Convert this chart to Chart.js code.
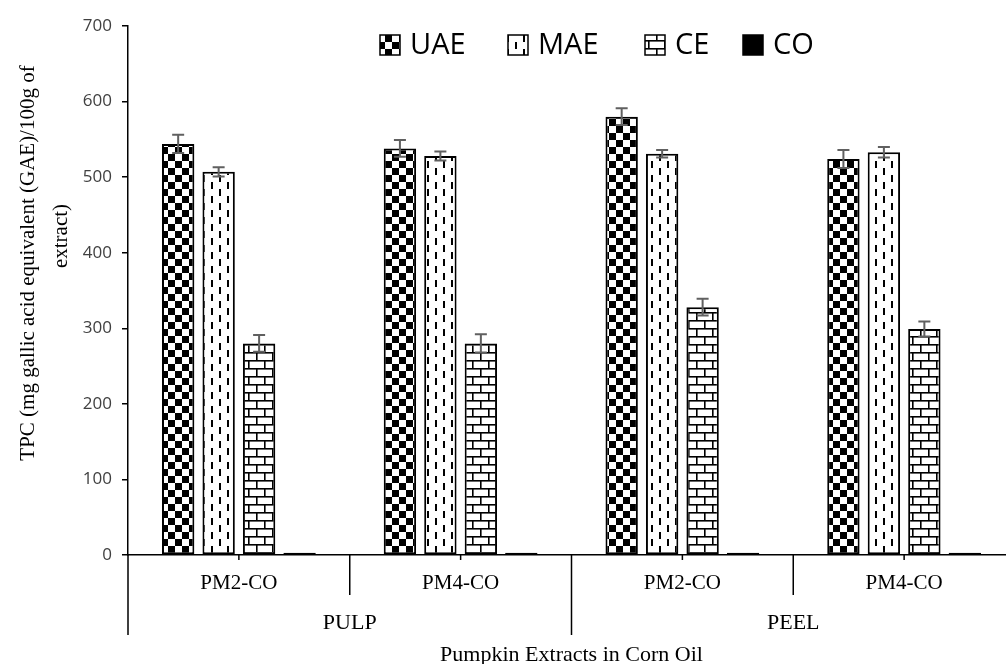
<!DOCTYPE html>
<html><head><meta charset="utf-8">
<script src="https://cdn.jsdelivr.net/npm/chart.js@4.4.1/dist/chart.umd.min.js"></script>
<style>html,body{margin:0;padding:0;background:#fff;overflow:hidden}#wrap{width:1006px;height:664px;overflow:hidden}</style>
</head><body><div id="wrap"><canvas id="c" width="1015" height="664" style="width:1015px;height:664px"></canvas></div>
<script>
// ---- data ----
const categories = ["PM2-CO", "PM4-CO", "PM2-CO", "PM4-CO"];
const groups = ["PULP", "PEEL"];
const seriesNames = ["UAE", "MAE", "CE", "CO"];
const uaeValues = [544, 538, 580, 524];
const maeValues = [507, 528, 531, 533];
const ceValues = [280, 280, 328, 299];
const coValues = [3, 3, 3, 3];
const uaeErr = [12, 11, 11, 12];
const maeErr = [6, 6, 5, 7];
const ceErr = [11, 12, 11, 10];
const coErr = [0, 0, 0, 0];
const yTicks = [0, 100, 200, 300, 400, 500, 600, 700];
const yTitle = ["TPC (mg gallic acid equivalent (GAE)/100g of", "extract)"];
const xTitle = "Pumpkin Extracts in Corn Oil";

// ---- patterns ----
function mk(w, h, draw) {
  const c = document.createElement('canvas'); c.width = w; c.height = h;
  const g = c.getContext('2d'); g.fillStyle = '#fff'; g.fillRect(0, 0, w, h); g.fillStyle = '#000'; draw(g);
  return document.getElementById('c').getContext('2d').createPattern(c, 'repeat');
}
const pChecker = mk(14, 14, g => { g.fillRect(0, 0, 7, 7); g.fillRect(7, 7, 7, 7); });
const pDash = mk(16, 14, g => { g.fillRect(3, 0, 2, 7); g.fillRect(11, 7, 2, 7); });
const pBrick = mk(16, 16, g => { g.fillRect(0, 0, 16, 1.6); g.fillRect(0, 8, 16, 1.6); g.fillRect(0, 0, 1.6, 8); g.fillRect(8, 8, 1.6, 8); });
const fills = [pChecker, pDash, pBrick, '#000'];
const vals = [uaeValues, maeValues, ceValues, coValues];
const errs = [uaeErr, maeErr, ceErr, coErr];

const datasets = seriesNames.map((n, i) => ({
  label: n, data: vals[i], errors: errs[i],
  backgroundColor: fills[i], borderColor: '#000', borderWidth: 2, borderSkipped: false,
  categoryPercentage: 0.73, barPercentage: 0.8
}));

const errorBars = {
  id: 'errorBars',
  afterDatasetsDraw(chart) {
    const ctx = chart.ctx, y = chart.scales.y;
    ctx.save(); ctx.strokeStyle = '#606060'; ctx.lineWidth = 2;
    chart.data.datasets.forEach((ds, i) => {
      const meta = chart.getDatasetMeta(i);
      meta.data.forEach((el, j) => {
        const e = ds.errors[j]; if (!e) return;
        const v = ds.data[j];
        const t = y.getPixelForValue(v + e), b = y.getPixelForValue(v - e);
        ctx.beginPath();
        ctx.moveTo(el.x, t); ctx.lineTo(el.x, b);
        ctx.moveTo(el.x - 6, t); ctx.lineTo(el.x + 6, t);
        ctx.moveTo(el.x - 6, b); ctx.lineTo(el.x + 6, b);
        ctx.stroke();
      });
    });
    ctx.restore();
  }
};

const legendX = [380, 508, 645, 743];
const extras = {
  id: 'extras',
  afterDraw(chart) {
    const ctx = chart.ctx, x = chart.scales.x, ca = chart.chartArea;
    const base = ca.bottom;
    ctx.save(); ctx.strokeStyle = '#000'; ctx.lineWidth = 1.5;
    const per = categories.length / groups.length;
    ctx.beginPath();
    for (let i = 0; i < categories.length; i++) {
      const cx = x.getPixelForTick(i);
      ctx.moveTo(cx, base); ctx.lineTo(cx, base + 5);
    }
    const step = x.getPixelForTick(1) - x.getPixelForTick(0);
    for (let i = 0; i <= categories.length; i++) {
      const bx = x.getPixelForTick(0) - step / 2 + i * step;
      const len = (i % per === 0) ? 80 : 40;
      ctx.moveTo(bx, base); ctx.lineTo(bx, base + len);
    }
    ctx.stroke();
    // y axis title
    ctx.fillStyle = '#000';
    ctx.font = '21px "Liberation Serif", "Times New Roman", serif';
    ctx.textAlign = 'center'; ctx.textBaseline = 'middle';
    const pos = [[28, 263], [61, 236]];
    yTitle.forEach((t, k) => {
      ctx.save(); ctx.translate(pos[k][0], pos[k][1]); ctx.rotate(-Math.PI / 2);
      ctx.fillText(t, 0, 0); ctx.restore();
    });
    // legend
    ctx.font = '29px "Open Sans", sans-serif';
    ctx.textAlign = 'left';
    const ly = 45;
    chart.data.datasets.forEach((ds, k) => {
      const lx = legendX[k];
      ctx.fillStyle = ds.backgroundColor;
      ctx.fillRect(lx, ly - 10, 20, 20);
      ctx.lineWidth = 1.5; ctx.strokeStyle = '#000';
      ctx.strokeRect(lx, ly - 10, 20, 20);
      ctx.fillStyle = '#000';
      ctx.fillText(ds.label, lx + 30, ly + 1);
    });
    ctx.restore();
  }
};

new Chart(document.getElementById('c'), {
  type: 'bar',
  data: { labels: categories, datasets },
  options: {
    responsive: false, animation: false,
    layout: { padding: { top: 26, right: 0, left: 0, bottom: 0 } },
    plugins: { legend: { display: false }, tooltip: { enabled: false } },
    scales: {
      y: {
        min: 0, max: 700,
        afterBuildTicks: s => { s.ticks = yTicks.map(v => ({ value: v })); },
        afterFit: s => { s.width = 128; },
        ticks: { color: '#404040', padding: 10, font: { family: '"Open Sans", sans-serif', size: 17 } },
        grid: { display: true, drawOnChartArea: false, drawTicks: true, tickLength: 6, color: '#000', lineWidth: 1.5 },
        border: { display: true, color: '#000', width: 1.5 }
      },
      x: {
        afterFit: s => { s.height = 47; },
        ticks: { color: '#000', padding: 8, font: { family: '"Liberation Serif", serif', size: 21 } },
        grid: { display: false },
        border: { display: true, color: '#000', width: 1.5 }
      },
      x2: {
        type: 'category', labels: groups, position: 'bottom', offset: true,
        afterFit: s => { s.height = 62; },
        grid: { display: false }, border: { display: false },
        ticks: { color: '#000', padding: 0, font: { family: '"Liberation Serif", serif', size: 22 } },
        title: { display: true, text: xTitle, color: '#000', padding: { top: 0, bottom: -4 }, font: { family: '"Liberation Serif", serif', size: 22 } }
      }
    }
  },
  plugins: [errorBars, extras]
});
</script>
</body></html>
